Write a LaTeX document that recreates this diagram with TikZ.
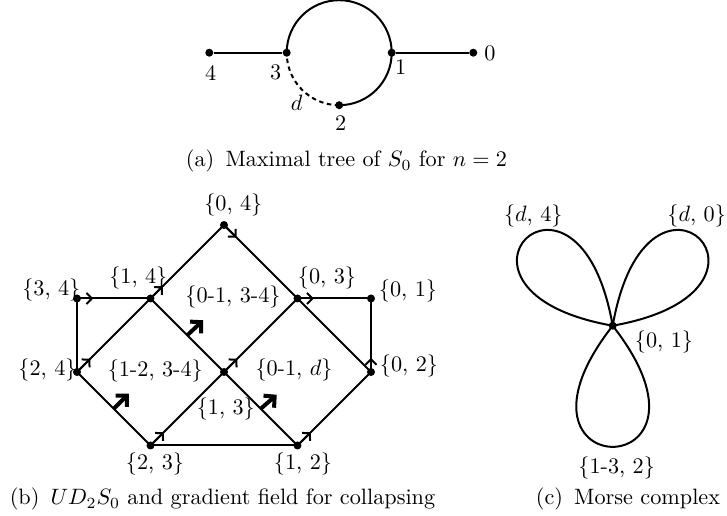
\documentclass[tikz,border=0pt]{standalone}
\usetikzlibrary{arrows.meta,calc}
\begin{document}
\begin{tikzpicture}[x=0.45pt,y=-0.45pt,
  edge/.style={line width=0.9pt},
  dot/.style={circle,fill,inner sep=0pt,minimum size=3.6pt},
  lbl/.style={inner sep=0pt},
  sarr/.style={line width=0.9pt,-{Straight Barb[length=2.4pt,width=5pt]}},
  barr/.style={line width=1.8pt,-{Straight Barb[length=3.5pt,width=7.2pt]}},
  captxt/.style={anchor=base,inner sep=0pt}]
\useasboundingbox (0,0) rectangle (727,516);

% ---------- (a) ----------
\node[dot] (a4) at (209.3,52.7) {};
\node[dot] (a3) at (286.7,52.7) {};
\node[dot] (a1) at (391.7,52.7) {};
\node[dot] (a0) at (473.3,52.7) {};
\node[dot] (a2) at (339.2,105.2) {};
\draw[edge] (a4) -- (a3);
\draw[edge] (a1) -- (a0);
\draw[edge] (a3.center) arc[start angle=180,end angle=450,radius=52.5];
\draw[edge,dash pattern=on 2pt off 1.6pt] (a2.center) arc[start angle=90,end angle=180,radius=52.5];
\node[lbl] (la4) at (210.8,72.5) {4};
\node[lbl] (la3) at (275.8,72.5) {3};
\node[lbl] (la1) at (400.8,66.7) {1};
\node[lbl] (la0) at (490,53.3) {0};
\node[lbl] (la2) at (340.8,123.3) {2};
\node[lbl] (lad) at (296.7,102.5) {$d$};
\node[captxt] (capa) at (346.5,167) {(a)\hspace{5pt}Maximal tree of $S_0$ for $n=2$};

% ---------- (b) ----------
\node[dot] (b24) at (77,372) {};
\node[dot] (b14) at (150.5,298.5) {};
\node[dot] (b04) at (224,225) {};
\node[dot] (b03) at (297.5,298.5) {};
\node[dot] (b02) at (371,372) {};
\node[dot] (b34) at (77,298.5) {};
\node[dot] (b01) at (371,298.5) {};
\node[dot] (bc)  at (224,372) {};
\node[dot] (b23) at (150.5,445.5) {};
\node[dot] (b12) at (297.5,445.5) {};

\draw[edge] (b24.center) -- (b14.center) -- (b04.center) -- (b03.center) -- (b02.center);
\draw[edge] (b24.center) -- (b23.center) -- (bc.center) -- (b03.center);
\draw[edge] (b14.center) -- (bc.center) -- (b12.center) -- (b02.center);
\draw[edge] (b24.center) -- (b34.center) -- (b14.center);
\draw[edge] (b03.center) -- (b01.center) -- (b02.center);
\draw[edge] (b23.center) -- (b12.center);

% small arrows
\draw[sarr] (b34.center) -- ($(b34.center)!7.3pt!(b14.center)$);
\draw[sarr] (b14.center) -- ($(b14.center)!7.8pt!(b04.center)$);
\draw[sarr] (b04.center) -- ($(b04.center)!8pt!(b03.center)$);
\draw[sarr] (b03.center) -- ($(b03.center)!7.3pt!(b01.center)$);
\draw[sarr] (b02.center) -- ($(b02.center)!6.3pt!(b01.center)$);
\draw[sarr] (b24.center) -- ($(b24.center)!8.5pt!(b14.center)$);
\draw[sarr] (bc.center)  -- ($(bc.center)!8.5pt!(b03.center)$);
\draw[sarr] (b23.center) -- ($(b23.center)!8.5pt!(bc.center)$);
\draw[sarr] (b12.center) -- ($(b12.center)!8.5pt!(b02.center)$);

% bold arrows
\coordinate (m1) at ($(b14)!0.5!(bc)$);
\coordinate (m2) at ($(b24)!0.5!(b23)$);
\coordinate (m3) at ($(bc)!0.5!(b12)$);
\draw[barr] (m1) -- ++(16,-15);
\draw[barr] (m2) -- ++(15,-15);
\draw[barr] (m3) -- ++(16,-14);

\node[lbl] (l04) at (233.3,205) {\{0, 4\}};
\node[lbl] (l14) at (138.3,278) {\{1, 4\}};
\node[lbl] (l34) at (51.3,290) {\{3, 4\}};
\node[lbl] (l24) at (47.5,370) {\{2, 4\}};
\node[lbl] (lc)  at (155.3,370.5) {\{1-2, 3-4\}};
\node[lbl] (l0134) at (233,297) {\{0-1, 3-4\}};
\node[lbl] (l03) at (327,277.5) {\{0, 3\}};
\node[lbl] (l01) at (408,290.8) {\{0, 1\}};
\node[lbl] (l02) at (409,366) {\{0, 2\}};
\node[lbl] (l01d) at (294,370) {\{0-1, $d$\}};
\node[lbl] (l13) at (225.8,409) {\{1, 3\}};
\node[lbl] (l23) at (155,464) {\{2, 3\}};
\node[lbl] (l12) at (303,464) {\{1, 2\}};
\node[captxt] (capb) at (222.5,505) {(b)\hspace{5pt}$UD_2S_0$ and gradient field for collapsing};

% ---------- (c) ----------
\node[dot] (cc) at (612.7,325.7) {};
\draw[edge] (cc.center) .. controls +(190:200) and +(260:200) .. (cc.center);
\draw[edge] (cc.center) .. controls +(350:200) and +(280:200) .. (cc.center);
\draw[edge] (cc.center) .. controls +(128:205) and +(52:205) .. (cc.center);
\node[lbl] (ld4) at (533.3,215.8) {\{$d$, 4\}};
\node[lbl] (ld0) at (696.7,215.8) {\{$d$, 0\}};
\node[lbl] (lc01) at (664,341.7) {\{0, 1\}};
\node[lbl] (l132) at (616.7,468) {\{1-3, 2\}};
\node[captxt] (capc) at (628,505) {(c)\hspace{5pt}Morse complex};
\end{tikzpicture}
\end{document}
